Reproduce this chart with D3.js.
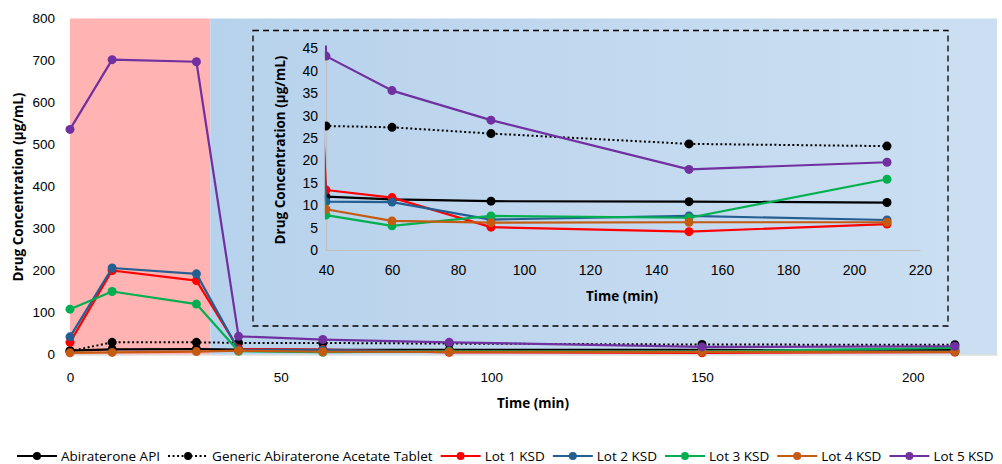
<!DOCTYPE html>
<html>
<head>
<meta charset="utf-8">
<script src="https://cdn.jsdelivr.net/npm/d3@7"></script>
<style>
  body { margin: 0; background: #fff; }
  svg { display: block; font-family: "Open Sans", sans-serif; }
  .tick text { fill: #000; }
</style>
</head>
<body>
<div class="chart-area"></div>
<script>
// sampling times (min) and the seven series
const times = [0, 10, 30, 40, 60, 90, 150, 210];
const seriesNames = ["Abiraterone API", "Generic Abiraterone Acetate Tablet", "Lot 1 KSD", "Lot 2 KSD", "Lot 3 KSD", "Lot 4 KSD", "Lot 5 KSD"];
const apiValues = [9, 12, 13, 11.9, 11.3, 10.9, 10.8, 10.6];
const genericValues = [8, 29, 29, 27.7, 27.4, 26.0, 23.7, 23.2];
const lot1Values = [29, 200, 176, 13.4, 11.7, 5.1, 4.1, 5.8];
const lot2Values = [42, 206, 192, 10.8, 10.7, 6.8, 7.6, 6.7];
const lot3Values = [108, 150, 120, 7.8, 5.4, 7.6, 7.2, 15.8];
const lot4Values = [4, 5, 7, 9.1, 6.5, 6.1, 6.2, 6.2];
const lot5Values = [536, 702, 697, 43.3, 35.6, 29.0, 18.0, 19.6];
const seriesColors = ["#000000", "#000000", "#FF0000", "#255E91", "#00B050", "#C55A11", "#7030A0"];

// ticks
const xTicks = [0, 50, 100, 150, 200];
const yTicks = [0, 100, 200, 300, 400, 500, 600, 700, 800];
const insetXTicks = [40, 60, 80, 100, 120, 140, 160, 180, 200, 220];
const insetYTicks = [0, 5, 10, 15, 20, 25, 30, 35, 40, 45];

// shaded phases (min)
const phaseStart = [0, 33.3];
const phaseEnd = [33.3, 220];

const allValues = [apiValues, genericValues, lot1Values, lot2Values, lot3Values, lot4Values, lot5Values];
const series = seriesNames.map((name, i) => ({
  name: name,
  color: seriesColors[i],
  dotted: i === 1,
  points: times.map((t, j) => ({ t: t, v: allValues[i][j] }))
}));

const width = 1002, height = 464;
const svg = d3.select(".chart-area").append("svg")
  .attr("width", width).attr("height", height);

const defs = svg.append("defs");
const grad = defs.append("linearGradient").attr("id", "blueGrad")
  .attr("x1", "0%").attr("x2", "100%").attr("y1", "0%").attr("y2", "0%");
grad.append("stop").attr("offset", "0%").attr("stop-color", "#B7D2EC");
grad.append("stop").attr("offset", "100%").attr("stop-color", "#CCDFF2");

// main chart scales
const x = d3.scaleLinear().domain([0, 220]).range([70, 997]);
const y = d3.scaleLinear().domain([0, 800]).range([354.5, 18.5]);

// phase bands
svg.selectAll(".band")
  .data(phaseStart.map((s, i) => ({ s: s, e: phaseEnd[i], fill: i === 0 ? "#FFB3B3" : "url(#blueGrad)" })))
  .enter().append("rect")
  .attr("x", d => x(d.s)).attr("width", d => x(d.e) - x(d.s))
  .attr("y", y(800)).attr("height", y(0) - y(800))
  .attr("fill", d => d.fill);

// axes
const xAxis = svg.append("g").attr("transform", `translate(0,${y(0)})`)
  .call(d3.axisBottom(x).tickValues(xTicks).tickSize(0).tickPadding(18));
xAxis.select(".domain").attr("stroke", "#D0D0D0").attr("stroke-width", 1.2);
xAxis.selectAll("text").style("font-size", "13.5px");

const yAxis = svg.append("g").attr("transform", `translate(${x(0)},0)`)
  .call(d3.axisLeft(y).tickValues(yTicks).tickSize(0).tickPadding(15));
yAxis.select(".domain").remove();
yAxis.selectAll("text").style("font-size", "13.5px");

svg.append("text").attr("x", 533).attr("y", 408).attr("text-anchor", "middle")
  .style("font-size", "13.5px").style("font-weight", "bold").text("Time (min)");
svg.append("text").attr("transform", "translate(23,187) rotate(-90)").attr("text-anchor", "middle")
  .style("font-size", "13.5px").style("font-weight", "bold").text("Drug Concentration (µg/mL)");

function drawSeries(g, xs, ys, r) {
  const line = d3.line().x(d => xs(d.t)).y(d => ys(d.v));
  const sg = g.selectAll(".series").data(series).enter().append("g").attr("class", "series");
  sg.append("path")
    .attr("d", d => line(d.points))
    .attr("fill", "none")
    .attr("stroke", d => d.color)
    .attr("stroke-width", d => d.dotted ? 2 : 2.2)
    .attr("stroke-dasharray", d => d.dotted ? "2,2.5" : null)
    .attr("stroke-linejoin", "round");
  sg.selectAll("circle").data(d => d.points.map(p => ({ p: p, c: d.color })))
    .enter().append("circle")
    .attr("cx", d => xs(d.p.t)).attr("cy", d => ys(d.p.v))
    .attr("r", r).attr("fill", d => d.c);
}

drawSeries(svg.append("g"), x, y, 4.5);

// inset
const ix = d3.scaleLinear().domain([40, 220]).range([326, 920]);
const iy = d3.scaleLinear().domain([0, 45]).range([250, 48.5]);

svg.append("rect").attr("x", 253).attr("y", 30.5).attr("width", 695).attr("height", 295.5)
  .attr("fill", "none").attr("stroke", "#000").attr("stroke-width", 1.3)
  .attr("stroke-dasharray", "6,4");

const ixAxis = svg.append("g").attr("transform", `translate(0,${iy(0)})`)
  .call(d3.axisBottom(ix).tickValues(insetXTicks).tickSize(0).tickPadding(15));
ixAxis.select(".domain").attr("stroke", "#BFBFBF").attr("stroke-width", 1.2);
ixAxis.selectAll("text").style("font-size", "14px");

const iyAxis = svg.append("g").attr("transform", `translate(${ix(40)},0)`)
  .call(d3.axisLeft(iy).tickValues(insetYTicks).tickSize(0).tickPadding(8));
iyAxis.select(".domain").attr("stroke", "#BFBFBF").attr("stroke-width", 1.2);
iyAxis.selectAll("text").style("font-size", "14px");

svg.append("text").attr("x", 622).attr("y", 301).attr("text-anchor", "middle")
  .style("font-size", "13.5px").style("font-weight", "bold").text("Time (min)");
svg.append("text").attr("transform", "translate(285,150) rotate(-90)").attr("text-anchor", "middle")
  .style("font-size", "13.5px").style("font-weight", "bold").text("Drug Concentration (µg/mL)");

defs.append("clipPath").attr("id", "insetClip").append("rect")
  .attr("x", ix(40) - 1.1).attr("y", iy(45) - 3)
  .attr("width", ix(220) - ix(40) + 10).attr("height", iy(0) - iy(45) + 8);
drawSeries(svg.append("g").attr("clip-path", "url(#insetClip)"), ix, iy, 4.5);

// legend
const legend = svg.append("g").attr("transform", "translate(17,456)");
let lx = 0;
series.forEach(s => {
  const item = legend.append("g").attr("transform", `translate(${lx},0)`);
  item.append("line").attr("x1", 0).attr("x2", 40).attr("y1", 0).attr("y2", 0)
    .attr("stroke", s.color).attr("stroke-width", 2.2)
    .attr("stroke-dasharray", s.dotted ? "2,2.5" : null);
  item.append("circle").attr("cx", 20).attr("cy", 0).attr("r", 4).attr("fill", s.color);
  const t = item.append("text").attr("x", 44).attr("y", 5)
    .style("font-size", "13.5px").text(s.name);
  lx += 44 + t.node().getComputedTextLength() + 8;
});
</script>
</body>
</html>
